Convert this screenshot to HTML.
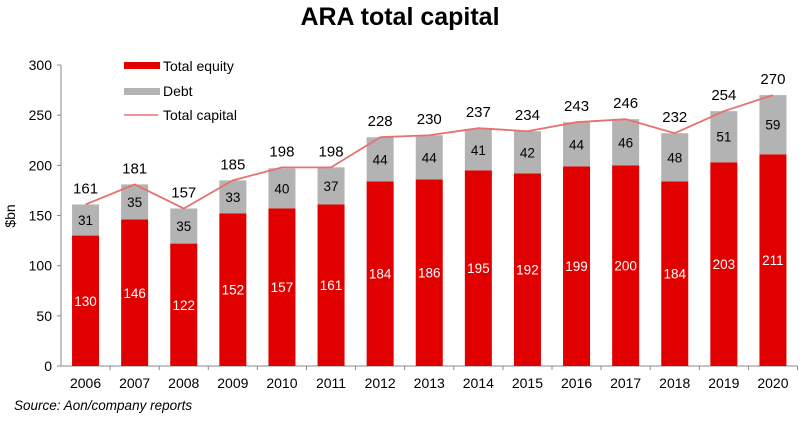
<!DOCTYPE html>
<html><head><meta charset="utf-8"><style>
body{margin:0;background:#fff;font-family:"Liberation Sans","DejaVu Sans",sans-serif}
</style></head><body>
<svg width="800" height="416" xmlns="http://www.w3.org/2000/svg" font-family="Liberation Sans, DejaVu Sans, sans-serif">
<text x="400" y="25" text-anchor="middle" font-size="25" font-weight="bold">ARA total capital</text>
<g id="chart"></g>
<text transform="translate(15,216) rotate(-90)" text-anchor="middle" font-size="14">$bn</text>
<text x="14" y="410" font-size="13.5" font-style="italic">Source: Aon/company reports</text>
<g>
<rect x="124" y="62" width="36" height="7" fill="#e00000"/><text x="163" y="71" font-size="14">Total equity</text>
<rect x="124" y="88" width="36" height="7" fill="#b3b3b3"/><text x="163" y="96" font-size="14">Debt</text>
<line x1="124" y1="115" x2="158" y2="115" stroke="#e87070" stroke-width="1.5"/><text x="163" y="120" font-size="14">Total capital</text>
</g>
</svg>
<script>
const years=["2006","2007","2008","2009","2010","2011","2012","2013","2014","2015","2016","2017","2018","2019","2020"];
const equity=[130,146,122,152,157,161,184,186,195,192,199,200,184,203,211];
const debt=[31,35,35,33,40,37,44,44,41,42,44,46,48,51,59];
const totals=[161,181,157,185,198,198,228,230,237,234,243,246,232,254,270];
const yTicks=[0,50,100,150,200,250,300];
const NS="http://www.w3.org/2000/svg";
const g=document.getElementById('chart');
const x0=61,step=49.1,y0=366,yTop=65,ymax=300,bw=27;
const y=v=>y0-(v/ymax)*(y0-yTop);
const cx=i=>x0+step*(i+0.5);
function el(t,a,p){const e=document.createElementNS(NS,t);for(const k in a)e.setAttribute(k,a[k]);(p||g).appendChild(e);return e;}
const ax=el('line',{x1:x0,y1:yTop,x2:x0,y2:y0,stroke:'#888'});


const xa=el('line',{x1:x0,y1:y0,x2:x0+step*years.length,y2:y0,stroke:'#888'});


yTicks.forEach(v=>{
 el('line',{x1:x0-4,y1:y(v),x2:x0,y2:y(v),stroke:'#888'});
 const t=el('text',{x:x0-9,y:y(v)+5,'text-anchor':'end','font-size':14});
 t.textContent=v;
 
 
});
years.forEach((yr,i)=>{
 const c=cx(i);
 el('line',{x1:x0+step*(i+1),y1:y0,x2:x0+step*(i+1),y2:y0+4,stroke:'#888'});
 const e=el('rect',{x:c-bw/2,y:y(equity[i]),width:bw,height:y0-y(equity[i]),fill:'#e00000'});
 
 
 const d=el('rect',{x:c-bw/2,y:y(equity[i]+debt[i]),width:bw,height:y(equity[i])-y(equity[i]+debt[i]),fill:'#b3b3b3'});
 
 
 const el1=el('text',{x:c,y:y(equity[i]/2)+5,'text-anchor':'middle','font-size':13.5,fill:'#fff'});
 el1.textContent=equity[i];
 
 
 const dl=el('text',{x:c,y:y(equity[i]+debt[i]/2)+5,'text-anchor':'middle','font-size':13.5});
 dl.textContent=debt[i];
 
 
 const tl=el('text',{x:c,y:y(totals[i])-11,'text-anchor':'middle','font-size':15});
 tl.textContent=totals[i];
 
 
 const xl=el('text',{x:c,y:y0+22,'text-anchor':'middle','font-size':14});
 xl.textContent=yr;
 
 
});
const pl=el('polyline',{points:totals.map((v,i)=>cx(i)+','+y(v)).join(' '),fill:'none',stroke:'#e87070','stroke-width':1.8});


</script>
</body></html>
